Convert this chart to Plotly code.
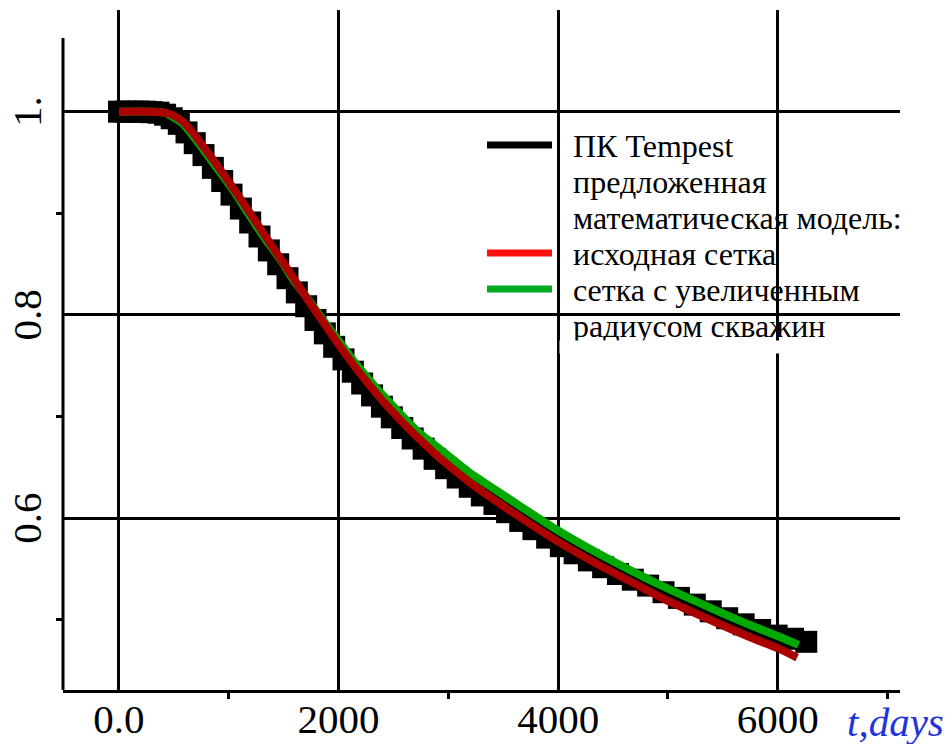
import plotly.graph_objects as go

FONT = "Liberation Serif"

# ---- data ----
# ПК Tempest (black squares)
tempest_t = [0, 60, 120, 180, 240, 300, 360, 420, 480, 545, 615, 690, 770, 855, 940,
             1025, 1110, 1195, 1280, 1365, 1450, 1535, 1620, 1705, 1790, 1875, 1960,
             2045, 2130, 2215, 2305, 2395, 2485, 2580, 2675, 2775, 2875, 2980, 3085,
             3195, 3305, 3420, 3535, 3655, 3775, 3900, 4025, 4150, 4280, 4410, 4545,
             4680, 4820, 4960, 5100, 5245, 5390, 5540, 5690, 5840, 5990, 6140, 6260]
tempest_v = [1.000, 1.000, 1.000, 1.000, 1.000, 0.9995, 0.999, 0.997, 0.9935, 0.988,
             0.9796, 0.969, 0.9573, 0.9447, 0.9318, 0.9184, 0.9047, 0.891, 0.8772,
             0.8635, 0.8499, 0.8362, 0.8222, 0.8086, 0.7951, 0.7819, 0.7687, 0.7563,
             0.7442, 0.7326, 0.7209, 0.7098, 0.6993, 0.6888, 0.6785, 0.6685, 0.6585,
             0.6493, 0.6401, 0.631, 0.6225, 0.6141, 0.606, 0.5974, 0.5893, 0.581,
             0.5726, 0.5656, 0.5586, 0.5519, 0.5452, 0.5396, 0.5338, 0.5273, 0.5217,
             0.5151, 0.5085, 0.5017, 0.4957, 0.4901, 0.4846, 0.4815, 0.4785]

# исходная сетка (red)
base_t = [0, 300, 420, 500, 583, 660, 738, 875, 1039, 1176, 1330, 1467, 1585, 1713,
          1859, 2013, 2150, 2259, 2405, 2560, 2715, 2924, 3198, 3380, 3653, 3999,
          4355, 4655, 4956, 5138, 5448, 5749, 6004, 6177]
base_v = [1.000, 1.000, 0.999, 0.996, 0.990, 0.981, 0.970, 0.950, 0.925, 0.903, 0.878,
          0.856, 0.837, 0.816, 0.793, 0.769, 0.749, 0.734, 0.715, 0.697, 0.680, 0.659,
          0.635, 0.621, 0.601, 0.577, 0.555, 0.538, 0.521, 0.512, 0.497, 0.483, 0.472,
          0.463]

# сетка с увеличенным радиусом скважин (green)
wide_t = [0, 300, 420, 500, 583, 660, 738, 875, 1039, 1176, 1330, 1467, 1585, 1713,
          1859, 2013, 2150, 2259, 2405, 2560, 2715, 2924, 3198, 3380, 3653, 3999,
          4355, 4655, 4956, 5138, 5448, 5749, 6004, 6190]
wide_v = [1.000, 1.000, 0.999, 0.994, 0.988, 0.978, 0.967, 0.947, 0.923, 0.900, 0.875,
          0.855, 0.835, 0.817, 0.795, 0.773, 0.753, 0.739, 0.721, 0.703, 0.686, 0.668,
          0.6445, 0.6315, 0.612, 0.588, 0.566, 0.549, 0.533, 0.524, 0.509, 0.495, 0.484,
          0.4755]

x_ticks = [0, 2000, 4000, 6000]
x_tick_text = ["0.0", "2000", "4000", "6000"]
x_minor = [1000, 3000, 5000, 7000]
y_ticks = [0.6, 0.8, 1.0]
y_tick_text = ["0.6", "0.8", "1."]
y_minor = [0.5, 0.7, 0.9]

legend_rows = ["ПК Tempest", "предложенная", "математическая модель:",
               "исходная сетка", "сетка с увеличенным", "радиусом скважин"]
legend_colors = {0: "#000000", 3: "#ff1010", 4: "#00aa22"}

X_RANGE = [-510, 7114]
Y_RANGE = [0.4311, 1.1]
Y_AXIS_TOP = 1.0725

# plot area in pixels
L, R, T, B = 63, 900, 10, 690
W, H = 952, 744


def px_x(p):
    return (p - L) / (R - L)


def px_y(p):
    return (B - p) / (B - T)


fig = go.Figure()

fig.add_trace(go.Scatter(
    x=tempest_t, y=tempest_v, mode="markers",
    marker=dict(symbol="square", size=22, color="black", line=dict(width=0)),
    showlegend=False, hoverinfo="skip"))
fig.add_trace(go.Scatter(
    x=wide_t, y=wide_v, mode="lines",
    line=dict(color="#00a800", width=8, shape="spline", smoothing=0.7),
    showlegend=False, hoverinfo="skip"))
fig.add_trace(go.Scatter(
    x=base_t, y=base_v, mode="lines",
    line=dict(color="#aa0000", width=8, shape="spline", smoothing=0.7),
    showlegend=False, hoverinfo="skip"))

shapes = []
# y axis line (stops above 1.0)
shapes.append(dict(type="line", xref="paper", yref="y", x0=0, x1=0,
                   y0=Y_RANGE[0], y1=Y_AXIS_TOP, line=dict(color="black", width=3),
                   layer="above"))
# legend white box (covers gridlines)
shapes.append(dict(type="rect", xref="paper", yref="paper",
                   x0=px_x(553), x1=px_x(910), y0=px_y(352), y1=px_y(116),
                   fillcolor="white", line=dict(width=0), layer="between"))

annotations = []
row_base = 156
for i, txt in enumerate(legend_rows):
    base = row_base + 36 * i
    annotations.append(dict(
        text=txt, xref="paper", yref="paper", x=px_x(571), y=px_y(base - 10),
        xanchor="left", yanchor="middle", showarrow=False,
        font=dict(family=FONT, size=32, color="black")))
    if i in legend_colors:
        yy = px_y(base - 11)
        shapes.append(dict(type="line", xref="paper", yref="paper",
                           x0=px_x(487), x1=px_x(552), y0=yy, y1=yy,
                           line=dict(color=legend_colors[i], width=7), layer="above"))

# clip bottom of last legend row
annotations.append(dict(text=" ", xref="paper", yref="paper", x=px_x(735), y=px_y(347),
                        xanchor="center", yanchor="middle", width=350, height=12,
                        bgcolor="white", borderpad=0, showarrow=False,
                        font=dict(family=FONT, size=8)))

# axis title
annotations.append(dict(text="<i>t,days</i>", xref="paper", yref="paper",
                        x=px_x(895), y=px_y(722), xanchor="center", yanchor="middle",
                        showarrow=False, font=dict(family=FONT, size=41, color="#2233dd")))

fig.update_layout(
    width=W, height=H,
    margin=dict(l=L, r=W - R, t=T, b=H - B, pad=0, autoexpand=False),
    paper_bgcolor="white", plot_bgcolor="white",
    showlegend=False,
    shapes=shapes, annotations=annotations,
    xaxis=dict(
        range=X_RANGE, showline=True, linecolor="black", linewidth=3,
        automargin=False,
        tickvals=x_ticks, ticktext=x_tick_text, ticks="",
        tickfont=dict(family=FONT, size=41, color="black"),
        ticklabelstandoff=-9,
        showgrid=True, gridcolor="black", gridwidth=3, zeroline=False,
        minor=dict(tickvals=x_minor, ticks="outside", ticklen=6, tickwidth=3,
                   tickcolor="black", showgrid=False),
    ),
    yaxis=dict(
        range=Y_RANGE, showline=False, automargin=False,
        tickvals=y_ticks, ticktext=y_tick_text, ticks="", tickangle=-90,
        tickfont=dict(family=FONT, size=41, color="black"),
        ticklabelstandoff=13, ticklabelshift=6,
        showgrid=True, gridcolor="black", gridwidth=3, zeroline=False,
        minor=dict(tickvals=y_minor, ticks="outside", ticklen=6, tickwidth=3,
                   tickcolor="black", showgrid=False),
    ),
)

fig.write_html("out.html")
